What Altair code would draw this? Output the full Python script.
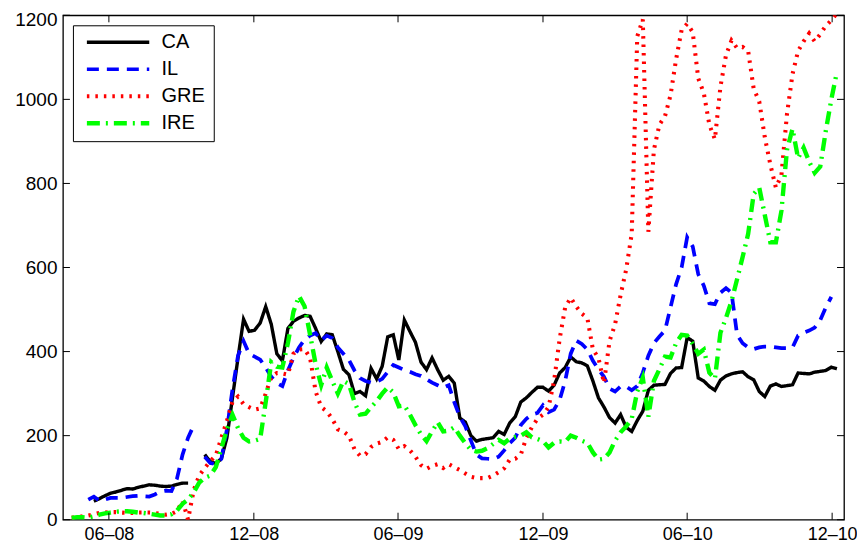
import altair as alt
import pandas as pd

NA = None
START = "2008-04-15"   # weekly observations
N = 139

series_names = ["CA", "IL", "GRE", "IRE"]

ca = [NA, NA, NA, NA, 44, 50, 57, 63, 66, 70,
      74, 73, 77, 80, 83, 82, 80, 79, 80, 84,
      87, 87, NA, NA, 155, 138, 134, 145, 195, 290,
      385, 477, 448, 451, 468, 507, 465, 395, 378, 455,
      472, 480, 486, 484, 455, 424, 442, 440, 400, 358,
      345, 300, 305, 295, 360, 335, 365, 435, 440, 380,
      475, 448, 422, 375, 357, 385, 357, 332, 341, 325,
      242, 232, 200, 187, 191, 193, 195, 210, 203, 230,
      245, 280, 290, 303, 315, 315, 306, 320, 349, 362,
      387, 376, 373, 366, 330, 290, 268, 243, 230, 250,
      220, 210, 236, 258, 308, 320, 321, 322, 348, 361,
      362, 433, 425, 337, 330, 317, 308, 332, 342, 347,
      350, 352, 340, 333, 305, 293, 318, 323, 317, 319,
      321, 349, 348, 347, 351, 353, 355, 363, 359]

il = [NA, NA, NA, 48, 55, 45, 48, 52, 52, 52,
      54, 56, 57, 56, 55, 60, 67, 69, 68, 98,
      155, 195, 224, NA, 150, 135, 132, 145, 215, 310,
      390, 425, 395, 388, 381, 362, 340, 325, 318, 355,
      385, 410, 428, 438, 444, 426, 438, 432, 410, 395,
      380, 355, 337, 330, 326, 328, 335, 352, 368, 362,
      356, 352, 346, 342, 334, 326, 320, 314, 320, 280,
      245, 222, 188, 155, 146, 145, 144, 150, 165, 182,
      195, 225, 240, 250, 254, 272, 256, 262, 285, 330,
      395, 426, 418, 405, 378, 358, 340, 312, 305, 317,
      317, 308, 318, 350, 390, 420, 436, 450, 505, 560,
      600, 672, 650, 584, 557, 515, 513, 540, 551, 540,
      440, 420, 410, 406, 410, 412, 412, 410, 408, 408,
      410, 438, 445, 450, 457, 475, 505, 530, NA]

gre = [5, 6, 8, 10, 13, 16, 17, 18, 18, 17,
       16, 16, 17, 17, 17, 16, 14, 12, 14, 20,
       45, 0, 70, 105, 123, 139, 153, 195, 235, 280,
       293, 275, 268, 262, 265, 300, 340, 349, 348, 345,
       395, 405, 406, 385, 305, 268, 258, 240, 215, 210,
       200, 168, 152, 156, 173, 181, 185, 196, 190, 168,
       175, 165, 150, 130, 121, 128, 132, 123, 132, 125,
       118, 110, 102, 99, 99, 99, 105, 113, 122, 143,
       145, 155, 195, 220, 240, 250, 268, 330, 430, 505,
       528, 507, 490, 480, 405, 385, 325, 425, 465, 535,
       595, 680, 1150, 1190, 685, 880, 940, 960, 1010, 1095,
       1165, 1180, 1160, 1050, 1015, 940, 905, 1030, 1105, 1140,
       1122, 1125, 1115, 1025, 995, 910, 845, 790, 820, 965,
       1060, 1115, 1138, 1157, 1138, 1155, 1175, 1188, 1205]

ire = [4, 6, 6, 5, 8, 12, 15, 17, 19, 20,
       20, 19, 17, 16, 14, 12, 10, 10, 13, 22,
       38, 48, 65, 88, 100, 105, 125, 170, 215, 250,
       218, 195, 186, 188, 192, 280, 375, 364, 362, 420,
       495, 532, 508, 440, 370, 320, 362, 330, 300, 330,
       323, 280, 250, 252, 268, 282, 300, 315, 303, 270,
       272, 250, 225, 203, 187, 210, 232, 210, 212, 220,
       200, 182, 166, 162, 164, 170, 180, 190, 182, 193,
       197, 200, 208, 196, 192, 187, 172, 183, 186, 185,
       200, 195, 188, 183, 160, 143, 145, 160, 188, 208,
       222, 240, 305, 338, 245, 330, 358, 388, 386, 420,
       440, 438, 418, 395, 405, 350, 335, 445, 480, 520,
       572, 625, 680, 775, 790, 725, 660, 660, 735, 880,
       930, 860, 885, 852, 825, 840, 925, 1000, 1065]

y_ticks = [0, 200, 400, 600, 800, 1000, 1200]
x_ticks = ["2008-06-01", "2008-12-01", "2009-06-01", "2009-12-01", "2010-06-01", "2010-12-01"]
x_domain = ["2008-04-04", "2010-12-16"]

colors = ["#000000", "#0000ff", "#ff0000", "#00ff00"]
dashes = [[1, 0], [12, 8], [2.5, 6], [13, 6, 2, 6]]
widths = [3.4, 4.4, 1.5, 4.4]

dates = pd.date_range(START, periods=N, freq="7D")
rows = []
for name, vals in zip(series_names, [ca, il, gre, ire]):
    seg, gap = 0, True
    for d, v in zip(dates, vals):
        if v is None:
            gap = True
            continue
        if gap:
            seg += 1
            gap = False
        rows.append({"date": d.strftime("%Y-%m-%d"), "value": v,
                     "series": name, "seg": f"{name}{seg}"})
df = pd.DataFrame(rows)

W, H = 782, 505
FONT = "Liberation Sans"


def dt(s):
    y, m, d = (int(p) for p in s.split("-"))
    return alt.DateTime(year=y, month=m, date=d, utc=True)


xscale = alt.Scale(type="utc", domain=[dt(s) for s in x_domain])
yscale = alt.Scale(domain=[0, 1200], nice=False, zero=False)

xaxis = alt.Axis(values=[dt(s) for s in x_ticks], format="%m\u2013%y",
                 title=None, ticks=False, domain=False, grid=False,
                 labelFontSize=18, labelFont=FONT, labelColor="black",
                 labelPadding=6)
yaxis = alt.Axis(values=y_ticks, format="d", title=None, ticks=False, domain=False,
                 grid=False, labelFontSize=19, labelFont=FONT,
                 labelColor="black", labelPadding=6,
                 labelOffset={"condition": {"test": "datum.value >= 1200", "value": 4},
                              "value": 0})

leg = alt.Legend(title=None)
enc = dict(
    x=alt.X("date:T", scale=xscale, axis=xaxis),
    y=alt.Y("value:Q", scale=yscale, axis=yaxis),
    color=alt.Color("series:N", scale=alt.Scale(domain=series_names, range=colors), legend=leg),
    strokeDash=alt.StrokeDash("series:N", scale=alt.Scale(domain=series_names, range=dashes), legend=leg),
    strokeWidth=alt.StrokeWidth("series:N", scale=alt.Scale(domain=series_names, range=widths), legend=leg),
    detail="seg:N",
)

base = alt.Chart(df)
layers = [base.transform_filter(alt.datum.series == n).mark_line(clip=True).encode(**enc)
          for n in series_names]

ydf = pd.DataFrame({"v": y_ticks})
xdf = pd.DataFrame({"t": x_ticks})
tl = 7
ytick_l = alt.Chart(ydf).mark_rule(color="black", strokeWidth=1).encode(
    y=alt.Y("v:Q", scale=yscale, axis=yaxis), x=alt.value(0), x2=alt.value(tl))
ytick_r = alt.Chart(ydf).mark_rule(color="black", strokeWidth=1).encode(
    y=alt.Y("v:Q", scale=yscale, axis=yaxis), x=alt.value(W - tl), x2=alt.value(W))
xtick_b = alt.Chart(xdf).mark_rule(color="black", strokeWidth=1).encode(
    x=alt.X("t:T", scale=xscale, axis=xaxis), y=alt.value(H - tl), y2=alt.value(H))
xtick_t = alt.Chart(xdf).mark_rule(color="black", strokeWidth=1).encode(
    x=alt.X("t:T", scale=xscale, axis=xaxis), y=alt.value(0), y2=alt.value(tl))

chart = alt.layer(*layers, ytick_l, ytick_r, xtick_b, xtick_t).properties(
    width=W, height=H,
    padding={"left": 55, "top": 7, "right": 13, "bottom": 24},
    autosize=alt.AutoSizeParams(type="none"),
).configure_view(stroke="black", strokeWidth=1.3).configure_legend(
    orient="none", legendX=10, legendY=10,
    strokeColor="black", fillColor="white", padding=8,
    symbolType="stroke", symbolSize=3900, symbolOffset=3.7,
    clipHeight=18,
    labelFontSize=20, labelFont=FONT, labelColor="black",
    labelOffset=10, rowPadding=7,
)

chart.save("out.html", embed_options={"renderer": "svg", "actions": False})
